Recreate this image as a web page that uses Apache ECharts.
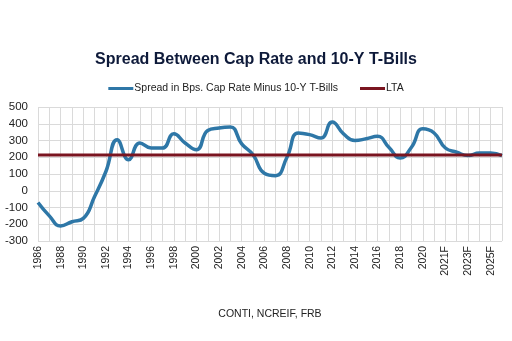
<!DOCTYPE html>
<html><head><meta charset="utf-8">
<script src="https://cdn.jsdelivr.net/npm/echarts@6/dist/echarts.min.js"></script>
<style>html,body{margin:0;padding:0;background:#fff}#c{width:512px;height:341px}</style>
</head><body><div id="c"></div>
<script>
const categories = ['1986','1987','1988','1989','1990','1991','1992','1993','1994','1995','1996','1997','1998','1999','2000','2001','2002','2003','2004','2005','2006','2007','2008','2009','2010','2011','2012','2013','2014','2015','2016','2017','2018','2019','2020','2021','2021F','2022F','2023F','2024F','2025F','2026F'];
const spread = [-70,-150,-210,-185,-165,-35,115,305,185,285,255,255,340,285,245,360,375,380,280,215,105,90,200,345,335,315,410,340,300,310,325,260,195,260,370,345,255,230,210,225,225,210];
const lta = categories.map(() => 214);
const yTicks = {min:-300, max:500, interval:100};

const chart = echarts.init(document.getElementById('c'));
chart.setOption({
  animation:false,
  title:{text:'Spread Between Cap Rate and 10-Y T-Bills', left:'center', top:47,
    textStyle:{fontFamily:'Liberation Sans', fontSize:16, fontWeight:'bold', color:'#0e1a3a'}},
  legend:{top:78, left:'center', itemWidth:25, itemHeight:3, itemGap:22, icon:'rect',
    textStyle:{fontFamily:'Liberation Sans', fontSize:10.5, color:'#222', padding:[0,0,0,-4]},
    data:['Spread in Bps. Cap Rate Minus 10-Y T-Bills','LTA']},
  grid:{left:38, right:10, top:107, bottom:100, containLabel:false},
  xAxis:{type:'category', data:categories, boundaryGap:false,
    name:'CONTI, NCREIF, FRB', nameLocation:'middle', nameGap:68,
    nameTextStyle:{fontFamily:'Liberation Sans', fontSize:10.5, color:'#222'},
    axisLine:{show:false}, axisTick:{show:false},
    axisLabel:{rotate:90, interval:(i)=>i%2===0, fontFamily:'Liberation Sans', fontSize:10.5, color:'#222', margin:5},
    splitLine:{show:true, interval:0, lineStyle:{color:'#dadada', width:1}}},
  yAxis:{type:'value', min:yTicks.min, max:yTicks.max, interval:yTicks.interval,
    axisLine:{show:false}, axisTick:{show:false},
    axisLabel:{fontFamily:'Liberation Sans', fontSize:11.5, color:'#222', margin:10},
    splitLine:{lineStyle:{color:'#dadada', width:1}}},
  series:[
    {name:'Spread in Bps. Cap Rate Minus 10-Y T-Bills', type:'line', data:spread, smooth:true, symbol:'none',
      lineStyle:{color:'#2e77a7', width:3.5}, itemStyle:{color:'#2e77a7'}, z:3},
    {name:'LTA', type:'line', data:lta, symbol:'none',
      lineStyle:{color:'#7a1520', width:3}, itemStyle:{color:'#7a1520'}, z:4}
  ]
});
</script></body></html>
